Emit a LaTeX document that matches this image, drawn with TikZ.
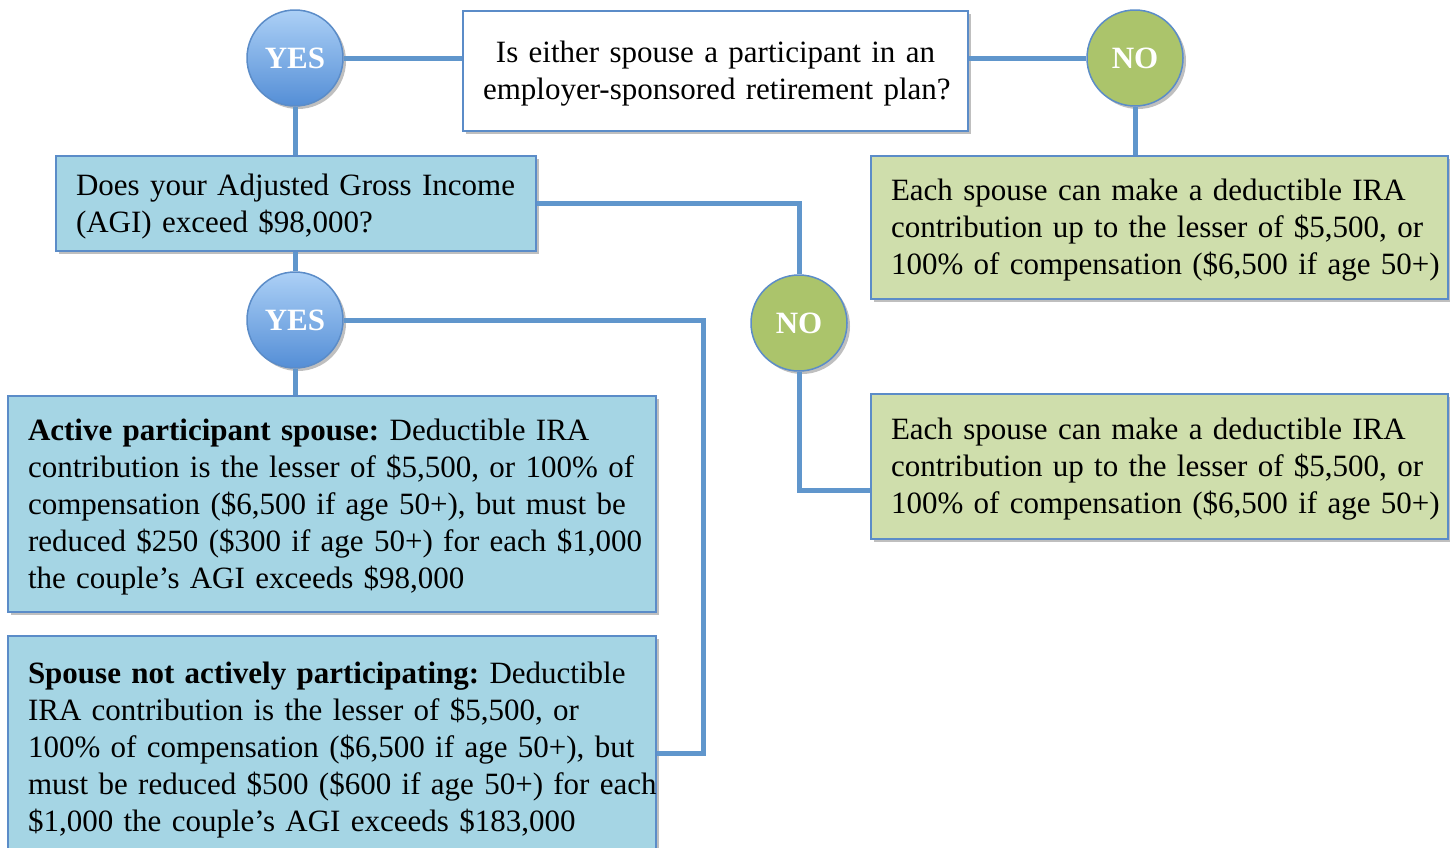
\documentclass[tikz,border=0pt]{standalone}
\usepackage{fontspec}
\setmainfont{Liberation Serif}
\usetikzlibrary{shadows,calc}
\definecolor{linec}{RGB}{96,150,204}
\definecolor{bordc}{RGB}{91,140,200}
\definecolor{boxblue}{RGB}{165,213,228}
\definecolor{boxgreen}{RGB}{207,222,172}
\definecolor{cgreen}{RGB}{171,196,107}
\definecolor{ctop}{RGB}{172,208,246}
\definecolor{cbot}{RGB}{84,142,214}
\newcommand{\tline}[1]{\mbox{#1}}
\frenchspacing
\begin{document}
\begin{tikzpicture}[x=1pt,y=-1pt,
  every node/.style={font=\fontsize{31}{37}\selectfont\frenchspacing},
  shad/.style={drop shadow={shadow xshift=3pt,shadow yshift=-3pt,opacity=0.25,fill=black}},
  box/.style={draw=bordc,line width=2pt,inner xsep=20pt,inner ysep=0pt,anchor=north west,align=left,shad,
     execute at begin node={\rule{0pt}{27pt}}, execute at end node={\rule[-7pt]{0pt}{0pt}}},
  circ/.style={circle,minimum size=96pt,inner sep=0pt,draw=bordc,line width=1.5pt,text=white,
     font=\fontsize{31}{31}\selectfont\bfseries,shad},
  yescirc/.style={circ,top color=ctop,bottom color=cbot},
  nocirc/.style={circ,fill=cgreen},
  conn/.style={draw=linec,line width=5pt}
]
\useasboundingbox (0,0) rectangle (1450,847);
\fill[white] (0,0) rectangle (1450,847);

\node[box,fill=white,align=center,text width=465pt,minimum width=505pt,minimum height=120pt] (q) at (462,10)
  {\tline{Is either spouse a participant in an}\\\tline{employer-sponsored retirement plan?}};
\node[box,fill=boxblue,text width=440pt,minimum width=480pt,minimum height=95pt] (agi) at (55,155)
  {\tline{Does your Adjusted Gross Income}\\\tline{(AGI) exceed \$98,000?}};
\node[box,fill=boxgreen,text width=537pt,minimum width=577pt,minimum height=143pt] (g1) at (870,155)
  {\tline{Each spouse can make a deductible IRA}\\\tline{contribution up to the lesser of \$5,500, or}\\\tline{100\% of compensation (\$6,500 if age 50+)}};
\node[box,fill=boxgreen,text width=537pt,minimum width=577pt,minimum height=145pt] (g2) at (870,393)
  {\tline{Each spouse can make a deductible IRA}\\\tline{contribution up to the lesser of \$5,500, or}\\\tline{100\% of compensation (\$6,500 if age 50+)}};
\node[box,fill=boxblue,text width=608pt,minimum width=648pt,minimum height=216pt] (act) at (7,395)
  {\tline{\textbf{Active participant spouse:} Deductible IRA}\\\tline{contribution is the lesser of \$5,500, or 100\% of}\\\tline{compensation (\$6,500 if age 50+), but must be}\\\tline{reduced \$250 (\$300 if age 50+) for each \$1,000}\\\tline{the couple’s AGI exceeds \$98,000}};
\node[box,fill=boxblue,text width=608pt,minimum width=648pt,minimum height=222pt] (sp) at (7,635)
  {\tline{\textbf{Spouse not actively participating:} Deductible}\\\tline{IRA contribution is the lesser of \$5,500, or}\\\tline{100\% of compensation (\$6,500 if age 50+), but}\\\tline{must be reduced \$500 (\$600 if age 50+) for each}\\\tline{\$1,000 the couple’s AGI exceeds \$183,000}};

\node[yescirc] (yes1) at (295,58) {YES};
\node[nocirc] (no1) at (1135,58) {NO};
\node[yescirc] (yes2) at (295,320) {YES};
\node[nocirc] (no2) at (799,323) {NO};

\coordinate (c1) at (703,753);
\coordinate (c2) at (799,490);

\draw[conn] (yes1.east) -- (yes1.east -| q.west);
\draw[conn] (no1.west -| q.east) -- (no1.west);
\draw[conn] (no1.south) -- (no1.south |- g1.north);
\draw[conn] (yes1.south) -- (yes1.south |- agi.north);
\draw[conn] (agi.east) -| (no2.north);
\draw[conn] (agi.south -| yes2) -- (yes2.north);
\draw[conn] (yes2.south) -- (yes2.south |- act.north);
\draw[conn] (yes2.east) -| (c1) -- (c1 -| sp.east);
\draw[conn] (no2.south) |- (g2.west |- c2);
\end{tikzpicture}
\end{document}
